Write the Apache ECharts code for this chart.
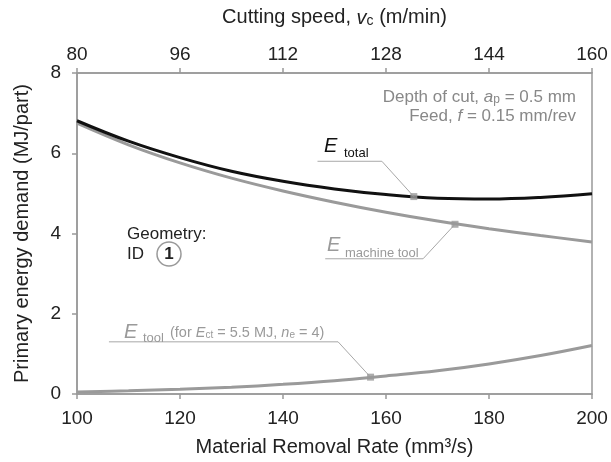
<!DOCTYPE html>
<html>
<head>
<meta charset="utf-8">
<script src="https://cdn.jsdelivr.net/npm/echarts@6/dist/echarts.min.js"></script>
<style>html,body{margin:0;padding:0;background:#fff}#c{width:611px;height:462px}</style>
</head>
<body>
<div id="c"></div>
<script>
// Material removal rate (mm^3/s)
const mrr = [100, 110, 120, 130, 140, 150, 160, 170, 180, 190, 200];
// Primary energy demand (MJ/part)
const eMachine = [6.75, 6.21, 5.76, 5.38, 5.06, 4.78, 4.53, 4.31, 4.12, 3.95, 3.79];
const eTool    = [0.05, 0.08, 0.12, 0.17, 0.24, 0.33, 0.45, 0.58, 0.75, 0.96, 1.21];
const eTotal   = [6.81, 6.30, 5.89, 5.55, 5.30, 5.11, 4.97, 4.88, 4.86, 4.90, 4.99];
// top axis: cutting speed (m/min)
const speedMin = 80, speedMax = 160, speedStep = 16;
// highlighted points (MRR, E)
const markerMRR = [165.4, 173.4, 157.0];
const markerE   = [4.92, 4.23, 0.42];
// label leader lines (MRR, E)
const leaderTotal   = [[146.7, 5.80], [159.2, 5.80], [165.4, 4.92]];
const leaderMachine = [[148.2, 3.37], [167.2, 3.37], [173.4, 4.23]];
const leaderTool    = [[106.2, 1.30], [150.7, 1.30], [157.0, 0.42]];

const FONT = "'Liberation Sans', Arial, sans-serif";
const AX = '#999';
const chart = echarts.init(document.getElementById('c'), null, {renderer: 'canvas'});

function pairs(xs, ys) { return xs.map((x, i) => [x, ys[i]]); }

function txt(x, y, text, size, opts) {
  opts = opts || {};
  return {
    type: 'text', x: x, y: y, z: 100,
    style: {
      text: text,
      font: (opts.italic ? 'italic ' : '') + (opts.bold ? 'bold ' : '') + size + 'px ' + FONT,
      fill: opts.color || '#222',
      textAlign: opts.align || 'left',
      textVerticalAlign: 'middle',
      rich: opts.rich
    }
  };
}

const gray = '#9a9a9a';
const subRich = function (size, color) {
  return {
    a: {fontSize: size, fontFamily: FONT, color: color, lineHeight: size + 2, verticalAlign: 'bottom'},
    i: {fontSize: size, fontFamily: FONT, color: color, fontStyle: 'italic', lineHeight: size + 2, verticalAlign: 'bottom'},
    s: {fontSize: Math.round(size * 0.7), fontFamily: FONT, color: color, lineHeight: 4, verticalAlign: 'bottom'}
  };
};

const option = {
  animation: false,
  backgroundColor: '#fff',
  grid: {left: 77, right: 19, top: 73, bottom: 63, show: true, borderColor: AX, borderWidth: 1.5},
  xAxis: [
    {
      type: 'value', position: 'bottom', min: 100, max: 200, interval: 20,
      name: 'Material Removal Rate (mm³/s)', nameLocation: 'middle', nameGap: 43,
      nameTextStyle: {fontSize: 20, fontFamily: FONT, color: '#222'},
      axisLine: {show: true, lineStyle: {color: AX, width: 1.5}},
      axisTick: {show: true, length: 5, lineStyle: {color: AX, width: 1.5}},
      axisLabel: {fontSize: 19, fontFamily: FONT, color: '#222', margin: 15},
      splitLine: {show: false}
    },
    {
      type: 'value', position: 'top', min: speedMin, max: speedMax, interval: speedStep,
      name: 'Cutting speed, {i|v}{s|c} (m/min)', nameLocation: 'middle', nameGap: 45,
      nameTextStyle: {fontSize: 20, fontFamily: FONT, color: '#222', rich: subRich(20, '#222')},
      axisLine: {show: true, lineStyle: {color: AX, width: 1.5}},
      axisTick: {show: true, length: 5, lineStyle: {color: AX, width: 1.5}},
      axisLabel: {fontSize: 19, fontFamily: FONT, color: '#222', margin: 9},
      splitLine: {show: false}
    }
  ],
  yAxis: {
    type: 'value', min: 0, max: 8, interval: 2,
    name: 'Primary energy demand (MJ/part)', nameLocation: 'middle', nameGap: 45,
    nameTextStyle: {fontSize: 20, fontFamily: FONT, color: '#222'},
    axisLine: {show: true, lineStyle: {color: AX, width: 1.5}},
    axisTick: {show: true, length: 5, lineStyle: {color: AX, width: 1.5}},
    axisLabel: {fontSize: 19, fontFamily: FONT, color: '#222', margin: 16},
    splitLine: {show: false}
  },
  series: [
    {type: 'line', data: pairs(mrr, eTool), smooth: 0.4, symbol: 'none', lineStyle: {color: gray, width: 3}, z: 2},
    {type: 'line', data: pairs(mrr, eMachine), smooth: 0.4, symbol: 'none', lineStyle: {color: gray, width: 3}, z: 3},
    {type: 'line', data: pairs(mrr, eTotal), smooth: 0.4, symbol: 'none', lineStyle: {color: '#111', width: 3}, z: 4},
    {type: 'line', data: leaderTotal, symbol: 'none', lineStyle: {color: '#a8a8a8', width: 1}, z: 5},
    {type: 'line', data: leaderMachine, symbol: 'none', lineStyle: {color: '#a8a8a8', width: 1}, z: 5},
    {type: 'line', data: leaderTool, symbol: 'none', lineStyle: {color: '#a8a8a8', width: 1}, z: 5},
    {type: 'scatter', data: pairs(markerMRR, markerE), symbol: 'rect', symbolSize: 7, itemStyle: {color: '#999'}, z: 6}
  ],
  graphic: [
    // parameters (top right)
    txt(576, 96, '{a|Depth of cut, }{i|a}{s|p}{a| = 0.5 mm}', 17, {align: 'right', color: '#888', rich: subRich(17, '#888')}),
    txt(576, 115, '{a|Feed, }{i|f}{a| = 0.15 mm/rev}', 17, {align: 'right', color: '#888', rich: subRich(17, '#888')}),
    // E total
    txt(324, 146, 'E', 20, {italic: true, color: '#111'}),
    txt(344, 153, 'total', 13, {color: '#111'}),
    // E machine tool
    txt(327, 245, 'E', 20, {italic: true, color: gray}),
    txt(345, 253, 'machine tool', 13, {color: gray}),
    // E tool
    txt(124, 332, 'E', 20, {italic: true, color: gray}),
    txt(143, 338, 'tool', 13, {color: gray}),
    txt(170, 332, '{a|(for }{i|E}{s|ct}{a| = 5.5 MJ, }{i|n}{s|e}{a| = 4)}', 14.5, {color: gray, rich: subRich(14.5, gray)}),
    // Geometry ID
    txt(127, 234, 'Geometry:', 17, {color: '#222'}),
    txt(127, 254, 'ID', 17, {color: '#222'}),
    {type: 'circle', shape: {cx: 169, cy: 254, r: 12}, style: {fill: 'none', stroke: '#999', lineWidth: 1.5}, z: 100},
    txt(169, 254, '1', 17, {bold: true, align: 'center', color: '#222'})
  ]
};
chart.setOption(option);
</script>
</body>
</html>
